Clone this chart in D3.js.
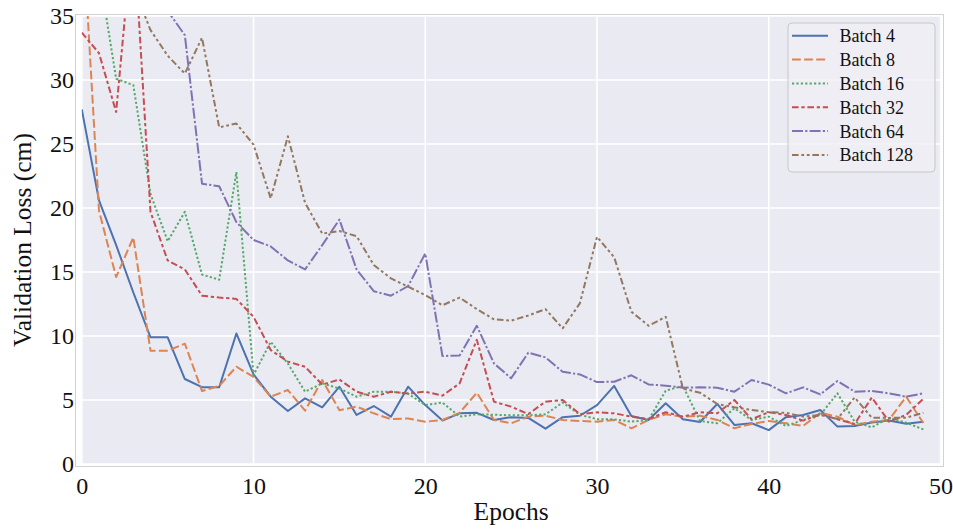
<!DOCTYPE html>
<html>
<head>
<meta charset="utf-8">
<script src="https://cdn.jsdelivr.net/npm/d3@7"></script>
<style>
  html, body { margin: 0; padding: 0; background: #fff; }
  svg { display: block; }
  text { font-family: "Liberation Serif", "Times New Roman", serif; fill: #111; }
</style>
</head>
<body>
<svg id="chart" width="953" height="529"></svg>
<script>
// Validation loss per epoch, one array per batch size
const epochs = d3.range(0, 50);
const batch4 = [27.7, 20.6, 17.1, 13.4, 9.9, 9.9, 6.64, 6.0, 6.0, 10.2,
  7.0, 5.26, 4.14, 5.13, 4.43, 6.04, 3.83, 4.53, 3.7, 6.04,
  4.6, 3.4, 3.96, 4.0, 3.44, 3.66, 3.6, 2.76, 3.66, 3.77,
  4.6, 6.1, 3.75, 3.44, 4.74, 3.49, 3.28, 4.69, 3.05, 3.18,
  2.65, 3.66, 3.83, 4.22, 2.92, 2.97, 3.25, 3.4, 3.15, 3.3];
const batch8 = [43.0, 19.8, 14.6, 17.7, 8.85, 8.85, 9.4, 5.7, 6.1, 7.6,
  6.8, 5.26, 5.78, 4.17, 6.56, 4.2, 4.48, 3.96, 3.5, 3.56,
  3.3, 3.44, 4.0, 5.57, 3.44, 3.18, 3.7, 3.77, 3.44, 3.36,
  3.31, 3.44, 2.79, 3.44, 3.88, 3.7, 3.77, 3.44, 2.79, 3.13,
  3.36, 3.18, 2.97, 4.0, 3.7, 3.05, 3.31, 3.44, 5.26, 3.2];
const batch16 = [41.0, 38.5, 30.1, 29.6, 21.1, 17.4, 19.7, 14.8, 14.4, 22.8,
  6.95, 9.55, 7.85, 5.65, 6.3, 5.9, 5.26, 5.65, 5.65, 5.5,
  4.6, 4.8, 3.7, 3.88, 3.85, 3.8, 3.8, 3.88, 4.8, 3.85,
  3.5, 3.49, 3.31, 3.44, 5.73, 6.1, 3.36, 3.18, 4.35, 3.44,
  3.7, 2.97, 3.44, 3.83, 5.52, 3.31, 2.86, 3.6, 3.23, 2.7];
const batch32 = [33.7, 32.1, 27.5, 42.0, 19.7, 15.9, 15.2, 13.15, 13.0, 12.9,
  11.5, 8.9, 8.0, 7.6, 6.2, 6.6, 5.65, 5.26, 5.65, 5.5,
  5.65, 5.34, 6.3, 9.7, 4.87, 4.48, 3.9, 4.87, 5.0, 3.9,
  4.04, 3.96, 3.7, 3.52, 4.04, 3.7, 4.04, 3.96, 5.0, 3.49,
  4.05, 3.83, 3.39, 3.88, 3.5, 3.13, 5.2, 3.31, 3.83, 5.1];
const batch64 = [58.0, 53.5, 47.9, 44.2, 39.6, 35.4, 33.5, 21.9, 21.7, 18.9,
  17.5, 17.0, 15.9, 15.2, 17.1, 19.1, 15.2, 13.5, 13.15, 13.9,
  16.45, 8.44, 8.47, 10.8, 7.86, 6.7, 8.7, 8.33, 7.2, 7.0,
  6.4, 6.43, 6.93, 6.22, 6.12, 5.96, 5.99, 5.96, 5.65, 6.56,
  6.2, 5.52, 5.99, 5.44, 6.48, 5.65, 5.7, 5.52, 5.26, 5.52];
const batch128 = [47.5, 44.1, 40.2, 37.3, 33.9, 31.9, 30.5, 33.3, 26.3, 26.6,
  24.95, 20.75, 25.6, 20.4, 18.0, 18.2, 17.8, 15.55, 14.5, 13.85,
  13.2, 12.4, 13.0, 12.1, 11.3, 11.2, 11.6, 12.1, 10.6, 12.55,
  17.75, 16.15, 11.9, 10.8, 11.5, 5.9, 5.57, 4.69, 4.43, 4.22,
  4.05, 4.0, 3.7, 3.83, 3.52, 5.2, 3.62, 3.6, 3.62, 4.0];

const seriesNames = ["Batch 4", "Batch 8", "Batch 16", "Batch 32", "Batch 64", "Batch 128"];
const seriesValues = [batch4, batch8, batch16, batch32, batch64, batch128];
const xTicks = [0, 10, 20, 30, 40, 50];
const yTicks = [0, 5, 10, 15, 20, 25, 30, 35];

// seaborn "deep" palette and dash patterns
const colors = ["#4C72B0", "#DD8452", "#55A868", "#C44E52", "#8172B3", "#937860"];
const u = 2.2;
const dashes = [null, [4, 1.5], [1, 1], [3, 1.25, 1.5, 1.25], [5, 1, 1, 1],
  [3, 1.25, 1.25, 1.25, 1.25, 1.25]].map(d => d ? d.map(v => (v * u).toFixed(2)).join(",") : null);

const svg = d3.select("#chart");
const x = d3.scaleLinear().domain([0, 50]).range([81.8, 940.5]);
const y = d3.scaleLinear().domain([0, 35]).range([464, 16]);

// axes frame
svg.append("rect")
  .attr("x", 75.5).attr("y", 14.5).attr("width", 868).attr("height", 452)
  .attr("fill", "none").attr("stroke", "#d2d2d2").attr("stroke-width", 1);

// plotting background
svg.append("rect")
  .attr("x", x(0)).attr("y", y(35))
  .attr("width", x(50) - x(0)).attr("height", y(0) - y(35))
  .attr("fill", "#EAEAF2");

svg.append("clipPath").attr("id", "plot-clip")
  .append("rect")
  .attr("x", x(0)).attr("y", y(35))
  .attr("width", x(50) - x(0)).attr("height", y(0) - y(35));

// grid
const grid = svg.append("g").attr("clip-path", "url(#plot-clip)");
grid.selectAll("line.gx").data(xTicks).join("line")
  .attr("x1", d => x(d)).attr("x2", d => x(d))
  .attr("y1", y(35)).attr("y2", y(0))
  .attr("stroke", "#fff").attr("stroke-width", 1.6);
grid.selectAll("line.gy").data(yTicks).join("line")
  .attr("x1", x(0)).attr("x2", x(50))
  .attr("y1", d => y(d)).attr("y2", d => y(d))
  .attr("stroke", "#fff").attr("stroke-width", 1.6);

// tick labels via d3 axes
const xAxis = svg.append("g")
  .attr("transform", `translate(0,${y(0)})`)
  .call(d3.axisBottom(x).tickValues(xTicks).tickSize(0).tickPadding(0).tickFormat(d3.format("d")));
xAxis.select(".domain").remove();
xAxis.selectAll("text")
  .attr("y", 30).attr("dy", null)
  .style("font-family", '"Liberation Serif", serif')
  .style("font-size", "24px").attr("fill", "#111");

const yAxis = svg.append("g")
  .attr("transform", `translate(74,0)`)
  .call(d3.axisLeft(y).tickValues(yTicks).tickSize(0).tickPadding(0).tickFormat(d3.format("d")));
yAxis.select(".domain").remove();
yAxis.selectAll("text")
  .attr("x", 0).attr("dy", "0.33em")
  .style("font-family", '"Liberation Serif", serif')
  .style("font-size", "24px").attr("fill", "#111");

// axis titles
svg.append("text")
  .attr("x", (x(0) + x(50)) / 2).attr("y", 520)
  .attr("text-anchor", "middle")
  .style("font-size", "25.5px")
  .text("Epochs");
svg.append("text")
  .attr("transform", `translate(31,${(y(0) + y(35)) / 2}) rotate(-90)`)
  .attr("text-anchor", "middle")
  .style("font-size", "25.5px")
  .text("Validation Loss (cm)");

// series lines
const line = d3.line().x((d, i) => x(epochs[i])).y(d => y(d));
const lines = svg.append("g").attr("clip-path", "url(#plot-clip)");
seriesValues.forEach((vals, k) => {
  lines.append("path")
    .datum(vals)
    .attr("d", line)
    .attr("fill", "none")
    .attr("stroke", colors[k])
    .attr("stroke-width", 2)
    .attr("stroke-linejoin", "round")
    .attr("stroke-dasharray", dashes[k]);
});

// legend
const lg = svg.append("g");
lg.append("rect")
  .attr("x", 788).attr("y", 23).attr("width", 147).attr("height", 149).attr("rx", 4)
  .attr("fill", "#EEEEF4").attr("fill-opacity", 0.85)
  .attr("stroke", "#c8c8c8").attr("stroke-width", 1);
seriesNames.forEach((name, k) => {
  const cy = 35.7 + k * 23.85;
  lg.append("line")
    .attr("x1", 792).attr("x2", 828).attr("y1", cy).attr("y2", cy)
    .attr("stroke", colors[k]).attr("stroke-width", 2)
    .attr("stroke-dasharray", dashes[k]);
  lg.append("text")
    .attr("x", 839.5).attr("y", cy + 6.4)
    .style("font-size", "18px")
    .text(name);
});
</script>
</body>
</html>
